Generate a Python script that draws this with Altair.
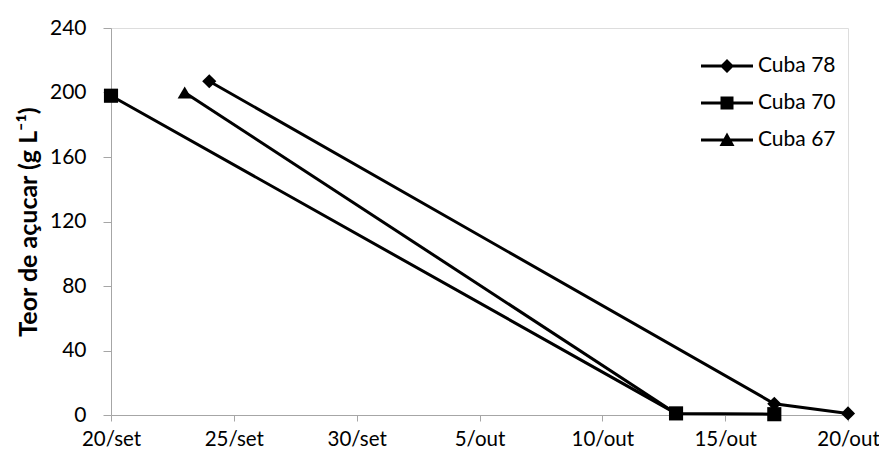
import altair as alt
import pandas as pd

series_names = ["Cuba 78", "Cuba 70", "Cuba 67"]
cuba78_dates = ["2012-09-24", "2012-10-17", "2012-10-20"]
cuba78_vals = [207, 7, 1]
cuba70_dates = ["2012-09-20", "2012-10-13", "2012-10-17"]
cuba70_vals = [198, 1, 0.5]
cuba67_dates = ["2012-09-23", "2012-10-13"]
cuba67_vals = [200, 1]

tick_dates = ["2012-09-20", "2012-09-25", "2012-09-30", "2012-10-05",
              "2012-10-10", "2012-10-15", "2012-10-20"]
y_ticks = [0, 40, 80, 120, 160, 200, 240]

rows = []
for name, ds, vs in [("Cuba 78", cuba78_dates, cuba78_vals),
                     ("Cuba 70", cuba70_dates, cuba70_vals),
                     ("Cuba 67", cuba67_dates, cuba67_vals)]:
    for d, v in zip(ds, vs):
        rows.append({"serie": name, "data": d, "teor": v})
df = pd.DataFrame(rows)

tick_ms = [int(pd.Timestamp(d, tz="UTC").timestamp() * 1000) for d in tick_dates]

FONT = "Lato"

x_enc = alt.X("data:T",
              scale=alt.Scale(type="utc", domain=[tick_ms[0], tick_ms[-1]]),
              axis=alt.Axis(values=tick_ms, title=None, grid=False,
                            labelExpr="utcdate(datum.value) + '/' + (utcmonth(datum.value) == 8 ? 'set' : 'out')",
                            labelFont=FONT, labelFontSize=20.5, labelColor="black",
                            domainColor="#a6a6a6", tickColor="#a6a6a6",
                            tickSize=6, labelPadding=8, labelFlush=False,
                            labelOverlap=False))
y_enc = alt.Y("teor:Q",
              scale=alt.Scale(domain=[0, 240], nice=False),
              axis=alt.Axis(values=y_ticks, title="Teor de açucar (g L⁻¹)",
                            grid=False, labelFont=FONT, labelFontSize=21,
                            labelColor="black", titleFont=FONT, titleFontSize=25,
                            titleFontWeight="bold", titleColor="black",
                            domainColor="#a6a6a6", tickColor="#a6a6a6",
                            tickSize=8, labelPadding=17, titlePadding=8))

lines = alt.Chart(df).mark_line(color="black", strokeWidth=3).encode(
    x=x_enc, y=y_enc, detail="serie:N")

points = alt.Chart(df).mark_point(filled=True, color="black", opacity=1, size=200).encode(
    x=x_enc, y=y_enc,
    shape=alt.Shape("serie:N", scale=alt.Scale(domain=series_names,
                                               range=["diamond", "square", "triangle-up"]),
                    legend=None))

leg_paths = [
    "M-2.6,-0.15H2.6V0.15H-2.6ZM0,-0.7L0.7,0L0,0.7L-0.7,0Z",
    "M-2.6,-0.15H2.6V0.15H-2.6ZM-0.65,-0.65H0.65V0.65H-0.65Z",
    "M-2.6,-0.15H2.6V0.15H-2.6ZM0,-0.75L0.75,0.6H-0.75Z",
]
legend_layer = alt.Chart(df).transform_filter(alt.datum.serie == "nenhuma").mark_point(
    filled=True, color="black", opacity=1).encode(
    x=x_enc, y=y_enc,
    shape=alt.Shape("serie:N",
                    scale=alt.Scale(domain=series_names, range=leg_paths),
                    legend=alt.Legend(title=None, orient="none", legendX=605, legendY=27,
                                      symbolSize=400, symbolFillColor="black",
                                      symbolOpacity=1, labelFont=FONT, labelFontSize=21,
                                      labelColor="black", labelOffset=20, rowPadding=16,
                                      padding=0)))

chart = alt.layer(lines, points, legend_layer).resolve_scale(shape="independent").properties(
    width=737, height=387,
    autosize=alt.AutoSizeParams(type="none"),
    padding={"left": 103, "top": 20, "right": 31, "bottom": 38},
).configure_view(stroke=None).configure(background="white")

chart.save("out.html", embed_options={"renderer": "svg", "actions": False})
